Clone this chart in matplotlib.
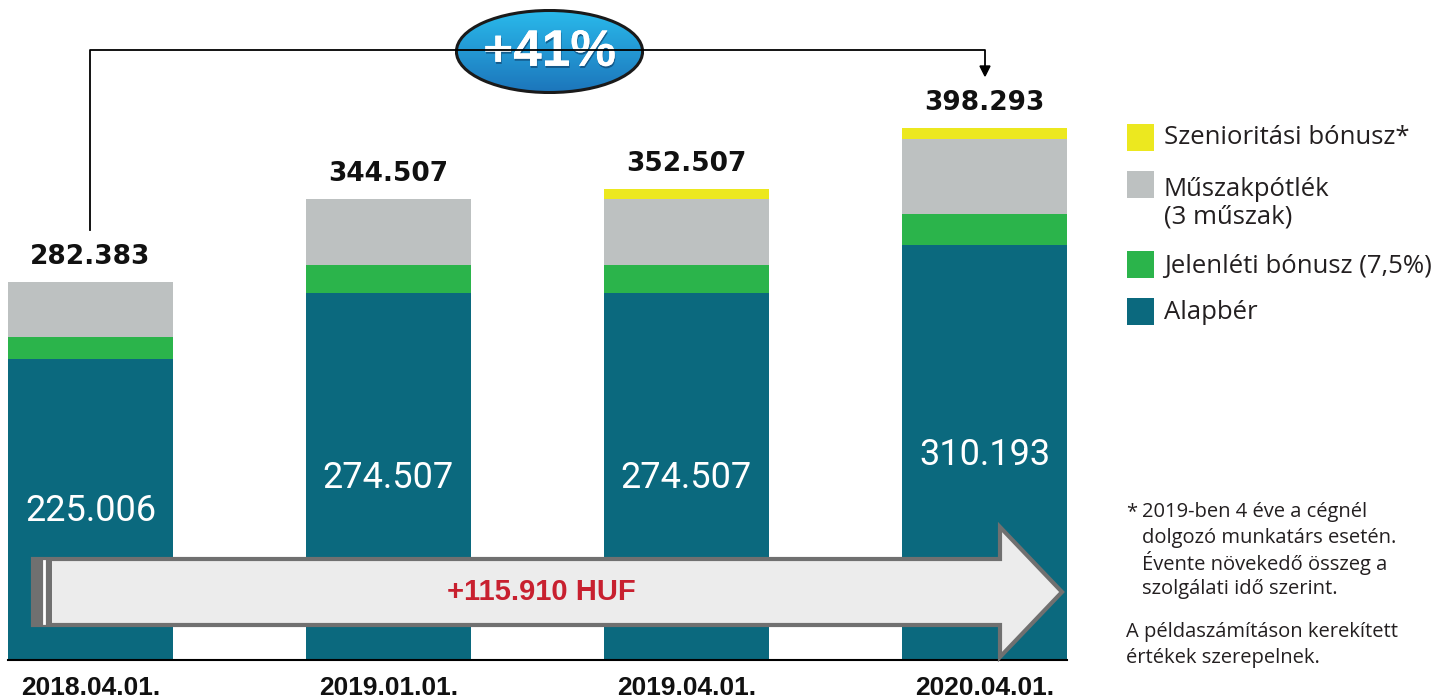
import numpy as np
import matplotlib
matplotlib.use("Agg")
import matplotlib.pyplot as plt
from matplotlib.patches import Polygon, Ellipse, Rectangle
from matplotlib.colors import LinearSegmentedColormap
import matplotlib.patheffects as pe

# ---- data ----
categories = ["2018.04.01.", "2019.01.01.", "2019.04.01.", "2020.04.01."]
alapber = [225006, 274507, 274507, 310193]
jelenleti = [16875, 20588, 20588, 23264]
muszak = [40502, 49412, 49412, 56086]
szenior = [0, 0, 8000, 8750]
totals = [282383, 344507, 352507, 398293]
total_labels = ["282.383", "344.507", "352.507", "398.293"]
alap_labels = ["225.006", "274.507", "274.507", "310.193"]
series_names = ["Szenioritási bónusz*", "Műszakpótlék\n(3 műszak)",
                "Jelenléti bónusz (7,5%)", "Alapbér"]
growth_label = "+41%"
diff_label = "+115.910 HUF"

C_TEAL = "#0b697e"
C_GREEN = "#2bb44b"
C_GREY = "#bdc1c1"
C_YELLOW = "#ece81f"

W, H = 1448, 700
fig = plt.figure(figsize=(W / 100, H / 100), dpi=100)

SCALE = 748.0  # value per pixel
BASE_PX = 660
ax = fig.add_axes([0, (H - BASE_PX) / H, 1, BASE_PX / H])
ax.set_xlim(-90.5 / 298, (W - 90.5) / 298)
ax.set_ylim(0, BASE_PX * SCALE)
ax.axis("off")

x = np.arange(len(categories))
bw = 165 / 298
b1 = np.array(alapber)
b2 = b1 + np.array(jelenleti)
b3 = b2 + np.array(muszak)
ax.bar(x, alapber, bw, color=C_TEAL, zorder=2)
ax.bar(x, jelenleti, bw, bottom=b1, color=C_GREEN, zorder=2)
ax.bar(x, muszak, bw, bottom=b2, color=C_GREY, zorder=2)
ax.bar(x, szenior, bw, bottom=b3, color=C_YELLOW, zorder=2)
ax.plot([x[0] - bw / 2, x[-1] + bw / 2], [0, 0], color="black", lw=1.5, zorder=3, clip_on=False)

for i in range(len(categories)):
    ax.text(x[i], totals[i] + 12 * SCALE, total_labels[i], ha="center", va="bottom",
            fontsize=19, fontweight="bold", family=["DejaVu Sans"], color="#111111")
    ax.text(x[i], alapber[i] * 0.495, alap_labels[i], ha="center", va="center",
            fontsize=26, family=["Roboto", "DejaVu Sans"], color="white", zorder=4)
    ax.text(x[i], -28 * SCALE, categories[i], ha="center", va="center", fontsize=19,
            fontweight="bold", family=["Liberation Sans Narrow", "Liberation Sans", "DejaVu Sans"],
            color="#111111", clip_on=False)

def F(px, py):
    return (px / W, 1 - py / H)

T = fig.transFigure

# bracket
xs = [90, 90, 985, 985]
ys = [230, 50, 50, 68]
fig.lines.append(plt.Line2D([v / W for v in xs], [1 - v / H for v in ys], transform=T,
                            color="black", lw=1.3))
fig.patches.append(Polygon([F(980, 66), F(990, 66), F(985, 76)], closed=True, transform=T,
                           facecolor="black", edgecolor="black"))

# big arrow
arrow_pts = [(33, 559), (1000, 559), (1000, 527), (1062, 592), (1000, 657), (1000, 625), (33, 625)]
fig.patches.append(Polygon([F(*p) for p in arrow_pts], closed=True, transform=T,
                           facecolor="#ececec", edgecolor="#707070", lw=3, zorder=5))
fig.patches.append(Rectangle(F(33, 625), 19 / W, 66 / H, transform=T,
                             facecolor="#707070", edgecolor="none", zorder=6))
fig.lines.append(plt.Line2D([44 / W, 44 / W], [1 - 561 / H, 1 - 623 / H], transform=T,
                            color="white", lw=2, zorder=7))
fig.text(541 / W, 1 - 592 / H, diff_label, ha="center", va="center", fontsize=21,
         fontweight="bold", color="#c8202f", family=["Liberation Sans", "DejaVu Sans"], zorder=8)

# ellipse with gradient
eax = fig.add_axes([455 / W, 1 - 94 / H, 189 / W, 85 / H])
eax.axis("off")
eax.set_xlim(0, 1)
eax.set_ylim(0, 1)
grad = np.linspace(0, 1, 256).reshape(-1, 1)
cmap = LinearSegmentedColormap.from_list("bl", ["#1c74ba", "#2abbec"])
im = eax.imshow(grad, extent=[0, 1, 0, 1], aspect="auto", cmap=cmap, origin="lower")
ell = Ellipse((0.5, 0.5), 0.985, 0.965, transform=eax.transAxes, facecolor="none", edgecolor="none")
eax.add_patch(ell)
im.set_clip_path(ell)
eax.add_patch(Ellipse((0.5, 0.5), 0.985, 0.965, transform=eax.transAxes,
                      facecolor="none", edgecolor="#1a1a1a", lw=2.2))
eax.text(0.5, 0.49, growth_label, ha="center", va="center", fontsize=37, fontweight="bold",
         color="white", family=["Liberation Sans", "DejaVu Sans"],
         transform=eax.transAxes,
         path_effects=[pe.withSimplePatchShadow(offset=(0.5, -1.5), shadow_rgbFace="#0a2f55", alpha=0.55),
                       pe.Normal()])

# legend
leg_colors = [C_YELLOW, C_GREY, C_GREEN, C_TEAL]
leg_tops = [124, 171, 251, 298]
leg_text_y = [138, 203, 266, 313]
for c, top, name, ty in zip(leg_colors, leg_tops, series_names, leg_text_y):
    fig.patches.append(Rectangle(F(1127, top + 27), 27 / W, 27 / H, transform=T,
                                 facecolor=c, edgecolor="none"))
    fig.text(1164 / W, 1 - ty / H, name, ha="left", va="center",
             fontsize=18.5, color="#231f20", family=["Open Sans", "DejaVu Sans"],
             linespacing=1.15)

# footnote
foot_lines = ["2019-ben 4 éve a cégnél", "dolgozó munkatárs esetén.",
              "Évente növekedő összeg a", "szolgálati idő szerint."]
fig.text(1126 / W, 1 - 512 / H, "*", ha="left", va="center", fontsize=14.5, color="#231f20",
         family=["Open Sans", "DejaVu Sans"])
for k, ln in enumerate(foot_lines):
    fig.text(1142 / W, 1 - (512 + 25.7 * k) / H, ln, ha="left", va="center", fontsize=14.5,
             color="#231f20", family=["Open Sans", "DejaVu Sans"])
foot2 = ["A példaszámításon kerekített", "értékek szerepelnek."]
for k, ln in enumerate(foot2):
    fig.text(1126 / W, 1 - (632 + 25.7 * k) / H, ln, ha="left", va="center", fontsize=14.5,
             color="#231f20", family=["Open Sans", "DejaVu Sans"])

fig.savefig("out.png", dpi=100)
